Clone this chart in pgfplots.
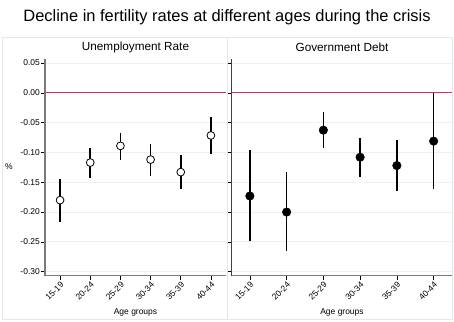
\documentclass[border=0pt]{standalone}
\usepackage{fontspec}
\setmainfont{Liberation Sans}
\usepackage{pgfplots}
\usepackage{pgfplotstable}
\pgfplotsset{compat=1.18}
\definecolor{zeroline}{HTML}{D6315C}
\definecolor{gridc}{HTML}{EAF0F3}
\definecolor{boxc}{HTML}{E2E9ED}
\definecolor{axisc}{HTML}{7A7A7A}

\pgfplotstableread{
x y lo hi
0 -0.180 -0.216 -0.145
1 -0.117 -0.143 -0.092
2 -0.089 -0.113 -0.068
3 -0.112 -0.140 -0.086
4 -0.133 -0.161 -0.104
5 -0.0715 -0.102 -0.040
}\unemp
\pgfplotstableread{
x y lo hi
0 -0.173 -0.248 -0.096
1 -0.200 -0.265 -0.133
2 -0.0626 -0.092 -0.032
3 -0.108 -0.142 -0.075
4 -0.122 -0.165 -0.079
5 -0.081 -0.161 0.000
}\debt

\pgfplotsset{
  panel/.style={
    scale only axis,
    height=216.7bp,
    xmin=-0.5, xmax=5.5,
    ymin=-0.3067, ymax=0.0567,
    axis x line*=bottom, axis y line*=left,
    xtick={0,1,2,3,4,5},
    xticklabels={15-19,20-24,25-29,30-34,35-39,40-44},
    x tick label style={rotate=45, anchor=north east, font=\fontsize{8.5}{10}\selectfont, inner sep=1bp},
    ytick={-0.3,-0.25,-0.2,-0.15,-0.1,-0.05,0,0.05},
    y tick label style={font=\fontsize{8.5}{10}\selectfont, inner sep=1bp},
    tick align=outside,
    major tick length=4bp,
    tick style={black, line width=0.6bp},
    ymajorgrids,
    major grid style={gridc, line width=0.8bp},
    x axis line style={axisc, line width=1.4bp},
    clip=false,
  },
  ebars/.style={forget plot, draw=none, mark=none,
    error bars/.cd, y dir=both, y explicit,
    error bar style={draw=black, line width=1.7bp, solid},
    error mark=none},
}

\begin{document}
\begin{tikzpicture}
\path[use as bounding box] (0,0) rectangle (454bp,322bp);
\fill[white] (0,0) rectangle (454bp,322bp);
\draw[boxc, line width=0.8bp] (2bp,3bp) rectangle (227bp,285bp);
\draw[boxc, line width=0.8bp] (227bp,3bp) rectangle (452.5bp,285bp);

\begin{axis}[panel, width=181bp, at={(45bp,46.3bp)}, anchor=south west,
  yticklabels={-0.30,-0.25,-0.20,-0.15,-0.10,-0.05,0.00,0.05},
  y axis line style={axisc, line width=1.6bp}]
  \addplot[zeroline, line width=1bp, forget plot] coordinates {(-0.5,0) (5.5,0)};
  \addplot[ebars] table[x=x, y=y, y error plus expr=\thisrow{hi}-\thisrow{y}, y error minus expr=\thisrow{y}-\thisrow{lo}] {\unemp};
  \addplot[only marks, mark=*, mark size=3.9bp, mark options={draw=black, fill=white, line width=0.8bp}] table[x=x, y=y] {\unemp};
\end{axis}

\begin{axis}[panel, width=220.5bp, at={(231.5bp,46.3bp)}, anchor=south west,
  yticklabels={},
  y axis line style={black!75, line width=1.3bp}]
  \addplot[zeroline, line width=1bp, forget plot] coordinates {(-0.5,0) (5.5,0)};
  \addplot[ebars] table[x=x, y=y, y error plus expr=\thisrow{hi}-\thisrow{y}, y error minus expr=\thisrow{y}-\thisrow{lo}] {\debt};
  \addplot[only marks, mark=*, mark size=4.3bp, mark options={draw=black, fill=black}] table[x=x, y=y] {\debt};
\end{axis}

\node[font=\fontsize{16.5}{19}\selectfont] at (227bp,304.5bp) {Decline in fertility rates at different ages during the crisis};
\node[font=\fontsize{11.8}{14}\selectfont] at (135.5bp,275bp) {Unemployment Rate};
\node[font=\fontsize{11.8}{14}\selectfont] at (342bp,275bp) {Government Debt};
\node[font=\fontsize{8.5}{10}\selectfont] at (135.5bp,10bp) {Age groups};
\node[font=\fontsize{8.5}{10}\selectfont] at (342bp,10bp) {Age groups};
\node[font=\fontsize{8.5}{10}\selectfont] at (9bp,155bp) {\%};
\end{tikzpicture}
\end{document}
